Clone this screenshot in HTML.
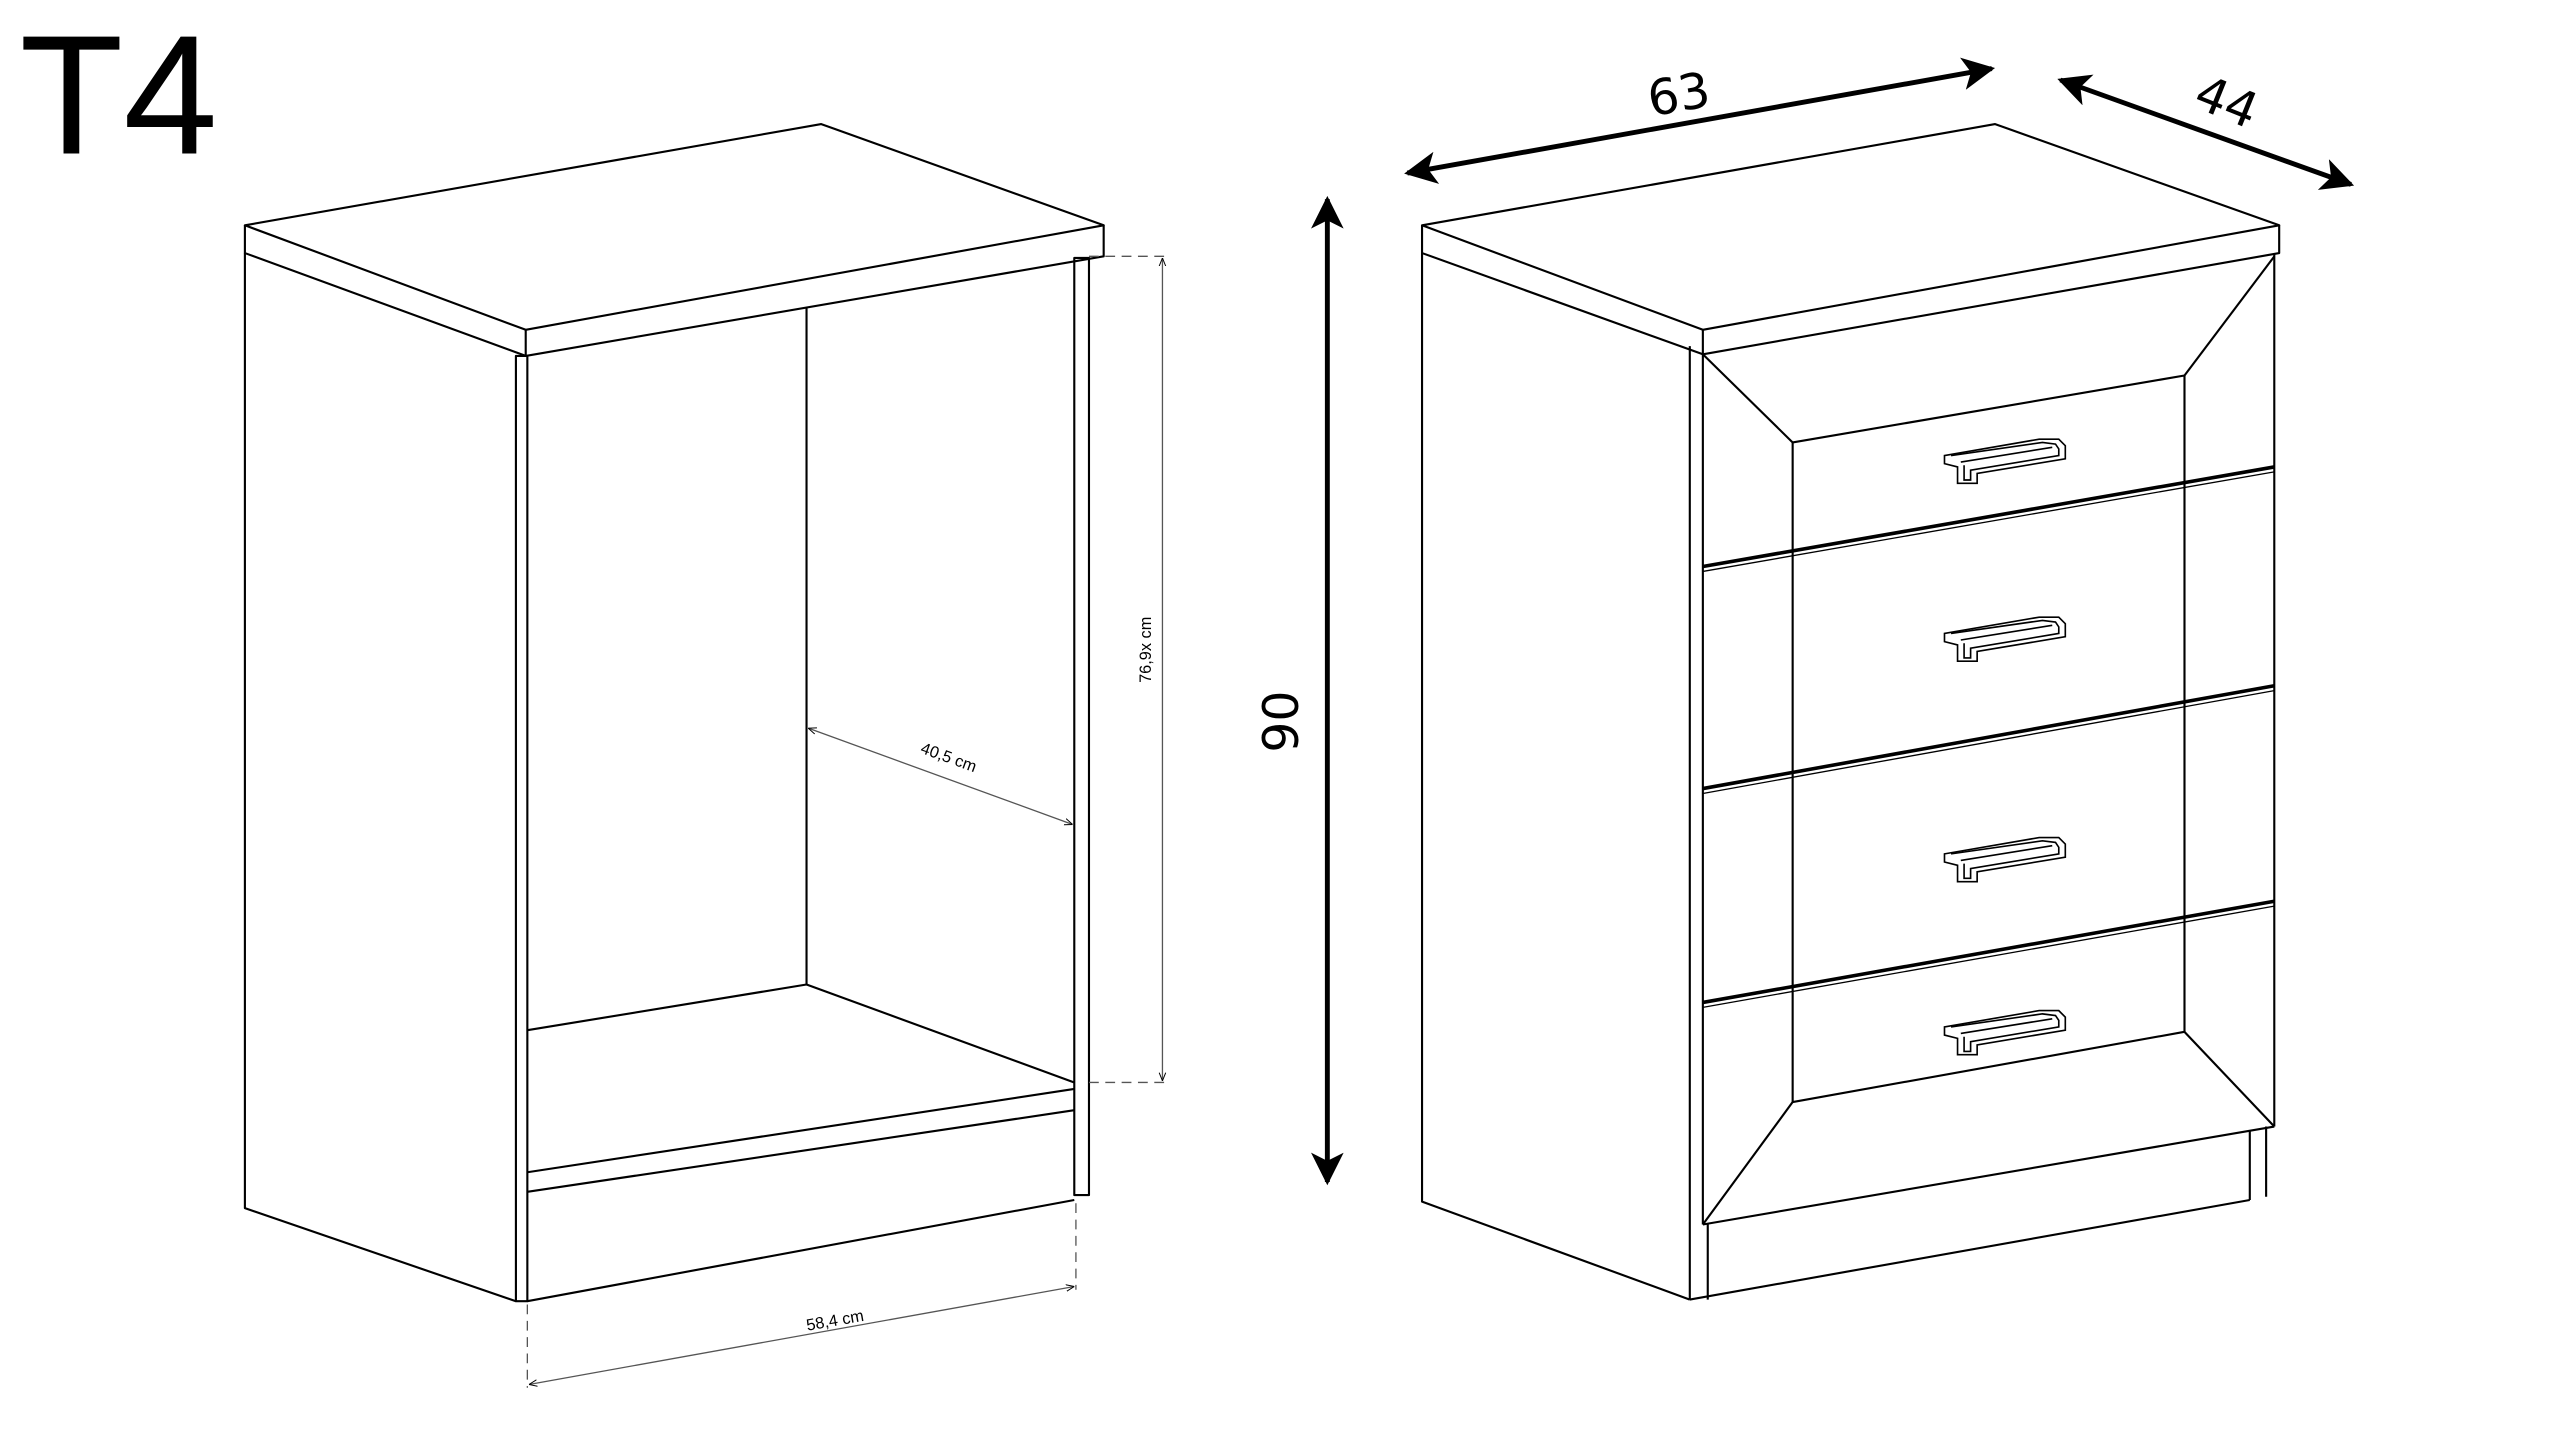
<!DOCTYPE html>
<html><head><meta charset="utf-8"><style>html,body{margin:0;padding:0;background:#fff;overflow:hidden}svg{display:block}</style></head>
<body>
<svg width="2560" height="1440" viewBox="0 0 1568 882" preserveAspectRatio="none" xmlns="http://www.w3.org/2000/svg">
<defs>
<marker id="ah" viewBox="0 0 20 20" refX="18" refY="10" markerWidth="20" markerHeight="20" orient="auto-start-reverse" markerUnits="userSpaceOnUse"><path d="M0,0 L20,10 L0,20 L5,10 z" fill="#000"/></marker>
<marker id="sa" viewBox="0 0 10 10" refX="10" refY="5" markerWidth="5" markerHeight="5" orient="auto-start-reverse" markerUnits="userSpaceOnUse"><path d="M0,1 L10,5 L0,9" fill="none" stroke="#000" stroke-width="1.2"/></marker>
</defs>
<rect width="1568" height="882" fill="#fff"/>
<text x="12" y="94" font-family="Liberation Sans, sans-serif" font-size="104" fill="#000">T4</text>

<g fill="none" stroke="#000" stroke-width="1.3" stroke-linejoin="round">
<!-- LEFT CABINET -->
<polygon points="150,138 503,76 676,138 322,202" fill="#fff"/>
<polyline points="150,138 150,155 322,218 676,157 676,138"/>
<line x1="322" y1="202" x2="322" y2="218"/>
<polyline points="150,155 150,740 316,797"/>
<rect x="316" y="218" width="7" height="579"/>
<rect x="658" y="158" width="9" height="574"/>
<line x1="494" y1="188" x2="494" y2="603"/>
<polyline points="323,631 494,603 658,663"/>
<line x1="323" y1="718" x2="658" y2="667"/>
<line x1="323" y1="730" x2="658" y2="680"/>
<line x1="323" y1="797" x2="658" y2="735"/>
</g>
<g fill="none" stroke="#555" stroke-width="0.8">
<line x1="667" y1="157" x2="716" y2="157" stroke-dasharray="6,4"/>
<line x1="667" y1="663" x2="716" y2="663" stroke-dasharray="6,4"/>
<line x1="712" y1="158" x2="712" y2="662" marker-start="url(#sa)" marker-end="url(#sa)"/>
<line x1="495" y1="446" x2="657" y2="505" marker-start="url(#sa)" marker-end="url(#sa)"/>
<line x1="323" y1="799" x2="323" y2="850" stroke-dasharray="6,4"/>
<line x1="659" y1="737" x2="659" y2="790" stroke-dasharray="6,4"/>
<line x1="324" y1="848" x2="658" y2="788" marker-start="url(#sa)" marker-end="url(#sa)"/>
</g>
<g font-family="Liberation Sans, sans-serif" font-size="10" fill="#000">
<text transform="translate(705,398) rotate(-90)" text-anchor="middle">76,9x cm</text>
<text transform="translate(580,467) rotate(20)" text-anchor="middle">40,5 cm</text>
<text transform="translate(512,812) rotate(-10)" text-anchor="middle">58,4 cm</text>
</g>

<!-- RIGHT CABINET -->
<g fill="none" stroke="#000" stroke-width="1.3" stroke-linejoin="round">
<polygon points="871,138 1222,76 1396,138 1043,202" fill="#fff"/>
<polyline points="871,138 871,155 1043,217 1396,155 1396,138"/>
<line x1="1043" y1="202" x2="1043" y2="217"/>
<polyline points="871,155 871,736 1035,796"/>
<line x1="1035" y1="212" x2="1035" y2="796"/>
<line x1="1043" y1="217" x2="1043" y2="750"/>
<line x1="1393" y1="155" x2="1393" y2="690"/>
<polygon points="1098,271 1338,230 1338,632 1098,675"/>
<line x1="1043" y1="217" x2="1098" y2="271"/>
<line x1="1393" y1="157" x2="1338" y2="230"/>
<line x1="1043" y1="750" x2="1098" y2="675"/>
<line x1="1393" y1="690" x2="1338" y2="632"/>
<line x1="1043" y1="750" x2="1393" y2="690"/>
<line x1="1046" y1="750" x2="1046" y2="796"/>
<line x1="1035" y1="796" x2="1378" y2="735"/>
<line x1="1378" y1="693" x2="1378" y2="735"/>
<line x1="1388" y1="690" x2="1388" y2="733"/>
</g>
<g stroke="#000" fill="none">
<line x1="1043" y1="347" x2="1393" y2="286" stroke-width="2.2"/>
<line x1="1043" y1="350" x2="1393" y2="289" stroke-width="0.8"/>
<line x1="1043" y1="483" x2="1393" y2="420" stroke-width="2.2"/>
<line x1="1043" y1="486" x2="1393" y2="423" stroke-width="0.8"/>
<line x1="1043" y1="614" x2="1393" y2="552" stroke-width="2.2"/>
<line x1="1043" y1="617" x2="1393" y2="555" stroke-width="0.8"/>
</g>
<defs>
<g id="hd" fill="#fff" stroke="#000" stroke-width="1">
<path d="M0,12 L58,2 L70,2 L74,6 L74,14 L20,23 L20,29 L8,29 L8,19 L0,17 z"/>
<path d="M4,12 L60,4 L68,5 L70,8 L70,12 L16,21 L16,27 L12,27 L12,18"/>
<path d="M10,16 L66,7"/>
</g>
</defs>
<use href="#hd" x="1191" y="267"/>
<use href="#hd" x="1191" y="376"/>
<use href="#hd" x="1191" y="511"/>
<use href="#hd" x="1191" y="617"/>

<!-- Big dimension arrows -->
<g stroke="#000" stroke-width="3" fill="none">
<line x1="862" y1="106" x2="1220" y2="42" marker-start="url(#ah)" marker-end="url(#ah)"/>
<line x1="1262" y1="49" x2="1440" y2="113" marker-start="url(#ah)" marker-end="url(#ah)"/>
<line x1="813" y1="122" x2="813" y2="724" marker-start="url(#ah)" marker-end="url(#ah)"/>
</g>
<g font-family="DejaVu Sans, sans-serif" font-size="30" fill="#000">
<text transform="translate(1030,68) rotate(-10)" text-anchor="middle">63</text>
<text transform="translate(1360,72) rotate(22)" text-anchor="middle">44</text>
<text transform="translate(795,442) rotate(-90)" text-anchor="middle">90</text>
</g>
</svg>
</body></html>
